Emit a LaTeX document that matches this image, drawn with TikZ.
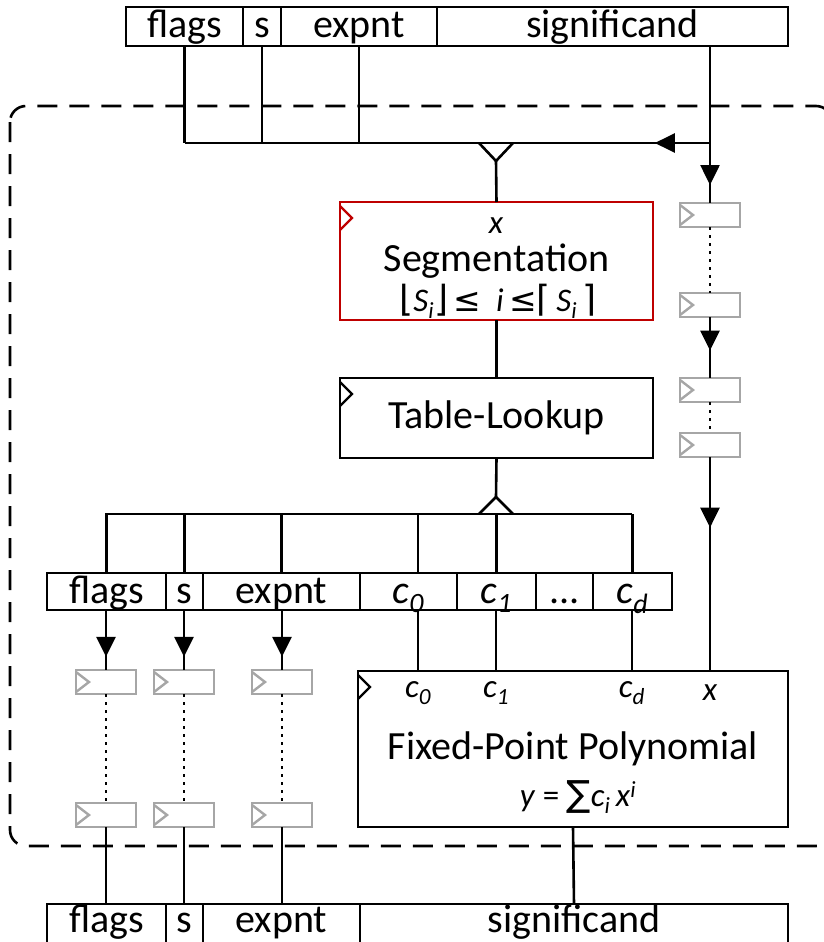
\documentclass[tikz,border=0pt]{standalone}
\usepackage{fontspec}
\setmainfont{Carlito}
\newfontfamily\symf{DejaVu Sans}
\usepackage{tikz}
\usetikzlibrary{positioning, arrows.meta, decorations.markings}
\newcommand{\bigtxt}{\fontsize{40}{44}\selectfont}
\newcommand{\smalltxt}{\fontsize{33}{36}\selectfont}
\newcommand{\coef}[1]{\textit{c\textsubscript{#1}}}
\newcommand{\brk}[1]{{\fontsize{36}{36}\selectfont\symf #1}}

\begin{document}
\begin{tikzpicture}[x=1pt, y=-1pt,
    wire/.style={line width=2.6pt},
    field/.style={
      draw, line width=2.6pt, outer sep=0pt, inner sep=0pt,
      minimum height=39pt, text height=29pt, text depth=6pt, font=\bigtxt
    },
    block/.style={
      draw=#1, line width=2.6pt, outer sep=0pt, inner sep=0pt, font=\bigtxt,
      path picture={\draw[#1, line width=2.4pt]
        ([yshift=-4pt]path picture bounding box.north west)
        -- ([xshift=12pt, yshift=-16pt]path picture bounding box.north west)
        -- ([yshift=-28pt]path picture bounding box.north west);}
    },
    block/.default=black,
    reg/.style={
      draw=black!35, line width=2.4pt, outer sep=0pt, inner sep=0pt,
      minimum width=60pt, minimum height=24pt,
      path picture={\draw[black!35, line width=2.4pt]
        ([yshift=-2pt]path picture bounding box.north west)
        -- ([xshift=13pt]path picture bounding box.west)
        -- ([yshift=2pt]path picture bounding box.south west);}
    },
    sub/.style={font=\smalltxt, inner sep=0pt},
    dots/.style={line width=2.8pt, dash pattern=on 2.8pt off 5.2pt},
    midarrow/.style={
      postaction={decorate},
      decoration={markings, mark=at position #1 with
        {\arrow{Triangle[length=20pt, width=19pt]}}}
    },
    frame/.style={line width=2.6pt, dash pattern=on 20pt off 12pt, rounded corners=16pt},
  ]
  \useasboundingbox (0,0) rectangle (823,942);

  % pipeline boundary
  \draw[frame] (10,106) rectangle (832,846);

  % input word
  \node[field, minimum width=117] (tflags) at (184.5,26.5) {flags};
  \node[field, minimum width=38, right=0pt of tflags] (ts) {s};
  \node[field, minimum width=156, right=0pt of ts] (texp) {expnt};
  \node[field, minimum width=351, right=0pt of texp] (tsig) {significand};

  % segmentation and table
  \node[block=red!75!black, minimum width=313, minimum height=118] (seg) at (496.5,261) {Segmentation};
  \node[sub] (segx) at (496,226) {\textit{x}};
  \node[sub] (segr) at (498,301) {\brk{⌊}\textit{S\textsubscript{i}}\brk{⌋}\,{\symf ≤}~~\textit{i}\,{\symf ≤}\brk{⌈}\,\textit{S\textsubscript{i}}\,\brk{⌉}};
  \node[block, minimum width=313, minimum height=80] (tbl) at (496.5,418) {Table-Lookup};

  % coefficient word
  \node[field, minimum width=119, minimum height=37] (mflags) at (106.5,591.5) {flags};
  \node[field, minimum width=37, minimum height=37, right=0pt of mflags] (ms) {s};
  \node[field, minimum width=157, minimum height=37, right=0pt of ms] (mexp) {expnt};
  \node[field, minimum width=97, minimum height=37, right=0pt of mexp] (mc0) {\coef{0}};
  \node[field, minimum width=79, minimum height=37, right=0pt of mc0] (mc1) {\coef{1}};
  \node[field, minimum width=57, minimum height=37, right=0pt of mc1] (mdots) {...};
  \node[field, minimum width=79, minimum height=37, right=0pt of mdots] (mcd) {\coef{d}};

  % polynomial
  \node[block, minimum width=430, minimum height=156] (poly) at (573,749) {Fixed-Point Polynomial};
  \node[sub] (pc0) at (418,693) {\coef{0}};
  \node[sub] (pc1) at (496,693) {\coef{1}};
  \node[sub] (pcd) at (632,693) {\coef{d}};
  \node[sub] (px) at (710,693) {\textit{x}};
  \node[sub] (py) at (578,797) {\textit{y} = \brk{∑}\coef{i}\,\textit{x}\textsuperscript{\textit{i}}};

  % output word
  \node[field, minimum width=119, text height=27pt, text depth=10pt] (bflags) at (106.5,923.5) {flags};
  \node[field, minimum width=37, text height=27pt, text depth=10pt, right=0pt of bflags] (bs) {s};
  \node[field, minimum width=157, text height=27pt, text depth=10pt, right=0pt of bs] (bexp) {expnt};
  \node[field, minimum width=428, text height=27pt, text depth=10pt, right=0pt of bexp] (bsig) {significand};

  % delay registers
  \node[reg] (fr1) at (106,682) {};
  \node[reg] (sr1) at (184,682) {};
  \node[reg] (er1) at (282,682) {};
  \node[reg] (fr2) at (106,815) {};
  \node[reg] (sr2) at (184,815) {};
  \node[reg] (er2) at (282,815) {};
  \node[reg] (xr1) at (710,215) {};
  \node[reg] (xr2) at (710,305) {};
  \node[reg] (xr3) at (710,390) {};
  \node[reg] (xr4) at (710,445) {};

  \coordinate (busL) at (183,143);
  \coordinate (busR) at (710,143);
  \coordinate (joinA) at (479,143);
  \coordinate (join) at (496,161);
  \coordinate (joinB) at (513,143);
  \coordinate (forkA) at (479,514);
  \coordinate (fork) at (496,497);
  \coordinate (forkB) at (513,514);
  \coordinate (forkL) at (105,514);
  \coordinate (forkR) at (632,514);

  % input bus
  \draw[wire] (tflags.south) -- (tflags.south |- busL);
  \draw[wire] (ts.south) -- (ts.south |- busL);
  \draw[wire] (texp.south) -- (texp.south |- busL);
  \draw[wire] (tsig.south -| busR) -- (busR);
  \draw[wire, midarrow=0.105] (busR) -- (tflags.south |- busL);
  \draw[wire] (joinA) -- (join) -- (joinB);
  \draw[wire] (join) -- (seg.north);
  \draw[wire] (seg.south) -- (tbl.north);

  % coefficient bus
  \draw[wire] (tbl.south) -- (fork);
  \draw[wire] (forkA) -- (fork) -- (forkB);
  \draw[wire] (forkL) -- (forkR);
  \draw[wire] (mflags.north |- forkL) -- (mflags.north);
  \draw[wire] (ms.north |- forkL) -- (ms.north);
  \draw[wire] (mexp.north |- forkL) -- (mexp.north);
  \draw[wire] (pc0 |- forkL) -- (pc0 |- mc0.north);
  \draw[wire] (mc1.north |- forkL) -- (mc1.north);
  \draw[wire] (mcd.north |- forkL) -- (mcd.north);
  \draw[wire] (pc0 |- mc0.south) -- (pc0 |- poly.north);
  \draw[wire] (pc1 |- mc1.south) -- (pc1 |- poly.north);
  \draw[wire] (pcd |- mcd.south) -- (pcd |- poly.north);

  % x delay line
  \draw[wire, midarrow=0.7] (busR) -- (xr1);
  \draw[dots] (xr1) -- (xr2);
  \draw[wire, midarrow=0.55] (xr2) -- (xr3);
  \draw[dots] (xr3) -- (xr4);
  \draw[wire, midarrow=0.33] (xr4) -- (px |- poly.north);

  % flags, sign, exponent delay lines
  \draw[wire, midarrow=0.78] (mflags.south -| fr1) -- (fr1);
  \draw[dots] (fr1) -- (fr2);
  \draw[wire] (fr2) -- (bflags.north -| fr2);
  \draw[wire, midarrow=0.78] (ms.south -| sr1) -- (sr1);
  \draw[dots] (sr1) -- (sr2);
  \draw[wire] (sr2) -- (bs.north -| sr2);
  \draw[wire, midarrow=0.78] (mexp.south -| er1) -- (er1);
  \draw[dots] (er1) -- (er2);
  \draw[wire] (er2) -- (bexp.north -| er2);

  \draw[wire] (poly.south) -- (bsig.north);
\end{tikzpicture}
\end{document}
